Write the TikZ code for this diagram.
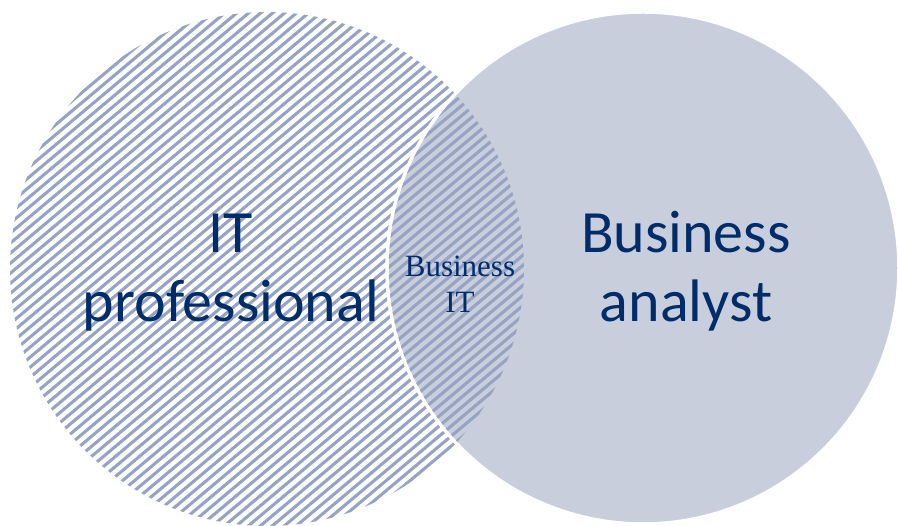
\documentclass[tikz,border=0pt]{standalone}
\usepackage{fontspec}
\newfontfamily\labelsans{Carlito}
\newfontfamily\labelserif{Liberation Serif}
\definecolor{navy}{RGB}{0,45,105}
\definecolor{hatchblue}{RGB}{150,163,194}
\definecolor{fillblue}{RGB}{201,206,221}
\newcommand\myhatch{%
  \begin{scope}[shift={(267,257)},rotate=40]
    \foreach \k in {-36,...,36}
      \draw[hatchline] (-300,\k*7.7) -- (300,\k*7.7);
  \end{scope}}
\tikzset{
  hatchline/.style={draw=hatchblue, line width=3.1pt},
  bigtext/.style={font=\labelsans\fontsize{60}{69}\selectfont, text=navy, align=center, inner sep=0pt},
  smalltext/.style={font=\labelserif\fontsize{31}{36}\selectfont, text=navy, align=center, inner sep=0pt}
}
\begin{document}
\begin{tikzpicture}[x=1pt,y=1pt]
\useasboundingbox (0,0) rectangle (898,526);
\coordinate (cl) at (267,257);
\coordinate (cr) at (643,258);
% left hatched circle
\begin{scope}
  \clip (cl) circle (257);
  \myhatch
\end{scope}
% right filled circle
\fill[fillblue] (cr) circle (256);
\draw[white, line width=3.5pt] (cr) circle (256);
% hatching over the intersection
\begin{scope}
  \clip (cr) circle (254.25);
  \clip (cl) circle (257);
  \myhatch
\end{scope}
\node[bigtext, anchor=base] (itpro) at (231,204) {IT\\professional};
\node[bigtext, anchor=base] (bizan) at (686,204) {Business\\analyst};
\node[smalltext, anchor=base] (bizit) at (460,213) {Business\\IT};
\end{tikzpicture}
\end{document}
